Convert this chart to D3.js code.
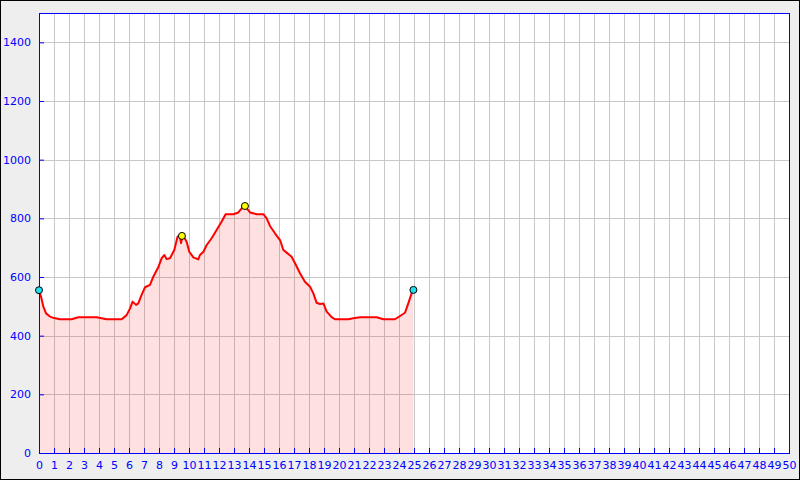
<!DOCTYPE html>
<html><head><meta charset="utf-8">
<script src="https://cdn.jsdelivr.net/npm/d3@7"></script>
<style>html,body{margin:0;padding:0;background:#fff}svg{display:block}</style>
</head><body>
<svg id="c" width="800" height="480"></svg>
<script>
const distance = [0,0.15,0.29,0.47,0.73,1.0,1.4,2.18,2.62,3.84,4.51,5.51,5.84,6.07,6.24,6.47,6.62,6.84,7.07,7.4,7.62,7.95,8.18,8.36,8.51,8.73,9.02,9.24,9.38,9.47,9.58,9.7,9.84,10.02,10.29,10.62,10.73,10.96,11.18,11.51,11.84,12.18,12.44,12.96,13.29,13.51,13.73,14.07,14.51,14.96,15.18,15.4,15.73,16.07,16.29,16.51,16.84,17.07,17.4,17.73,18.07,18.29,18.51,18.73,18.96,19.18,19.51,19.73,20.62,20.96,21.4,22.51,22.96,23.73,24.07,24.4,24.62,24.84,24.96];
const elevation = [555,530,499,476,465,460,456,456,463,463,456,456,470,493,516,505,510,539,565,573,601,633,664,675,661,664,692,738,742,716,742,733,720,686,667,660,675,686,709,732,760,789,814,814,820,834,842,820,814,814,800,774,749,726,692,683,669,647,613,584,567,544,512,508,510,482,463,456,456,459,463,463,456,456,467,478,510,544,556];
const markerX = [0,9.53,13.73,24.96];
const markerY = [555,740,842,556];
const markerColor = ["#22e0f0","#ffff00","#ffff00","#22e0f0"];
const xTicks = d3.range(0,51,1);
const yTicks = [0,200,400,600,800,1000,1200,1400];

const svg = d3.select("#c");
svg.append("rect").attr("x",0.5).attr("y",0.5).attr("width",799).attr("height",479)
  .attr("fill","#eeeeee").attr("stroke","#000");
const L=39,R=789,T=13,B=453;
const x = d3.scaleLinear().domain([0,50]).range([L,R]);
const y = d3.scaleLinear().domain([0,1500]).range([B,T]);
svg.append("rect").attr("x",L).attr("y",T).attr("width",R-L).attr("height",B-T).attr("fill","#fff");
const g = svg.append("g");
g.selectAll(".vg").data(xTicks.filter(d=>d>0&&d<50)).join("line")
  .attr("x1",d=>Math.round(x(d))+0.5).attr("x2",d=>Math.round(x(d))+0.5)
  .attr("y1",T).attr("y2",B).attr("stroke","#c8c8c8").attr("stroke-width",1);
g.selectAll(".hg").data(yTicks.filter(d=>d>0)).join("line")
  .attr("x1",L).attr("x2",R).attr("y1",d=>Math.round(y(d))+0.5).attr("y2",d=>Math.round(y(d))+0.5)
  .attr("stroke","#c8c8c8").attr("stroke-width",1);
const pts = distance.map((d,i)=>[d,elevation[i]]);
g.append("path").datum(pts)
  .attr("d",d3.area().x(d=>x(d[0])).y0(B).y1(d=>y(d[1])))
  .attr("fill","#ff0000").attr("fill-opacity",0.12);
g.append("path").datum(pts)
  .attr("d",d3.line().x(d=>x(d[0])).y(d=>y(d[1])))
  .attr("fill","none").attr("stroke","#ff0000").attr("stroke-width",2).attr("stroke-linejoin","round");
// axes
const blue="#0000ff";
const xa = svg.append("g").attr("transform",`translate(0,${B})`)
  .call(d3.axisBottom(x).tickValues(xTicks).tickSize(-5).tickSizeOuter(0).tickPadding(8).tickFormat(d3.format("d")));
const ya = svg.append("g").attr("transform",`translate(${L},0)`)
  .call(d3.axisLeft(y).tickValues(yTicks).tickSize(-5).tickSizeOuter(0).tickPadding(8).tickFormat(d3.format("d")));
[xa,ya].forEach(a=>{
  a.selectAll("path").remove();
  a.selectAll("line").attr("stroke",blue);
  a.selectAll("text").attr("fill",blue).style("font-family","DejaVu Sans").style("font-size","11px");
});
svg.append("rect").attr("x",L+0.5).attr("y",T+0.5).attr("width",R-L).attr("height",B-T)
  .attr("fill","none").attr("stroke",blue).attr("stroke-width",1);
svg.selectAll(".mk").data(markerX).join("circle")
  .attr("cx",d=>x(d)).attr("cy",(d,i)=>y(markerY[i])).attr("r",3.5)
  .attr("fill",(d,i)=>markerColor[i]).attr("stroke","#000").attr("stroke-width",1);
</script>
</body></html>
